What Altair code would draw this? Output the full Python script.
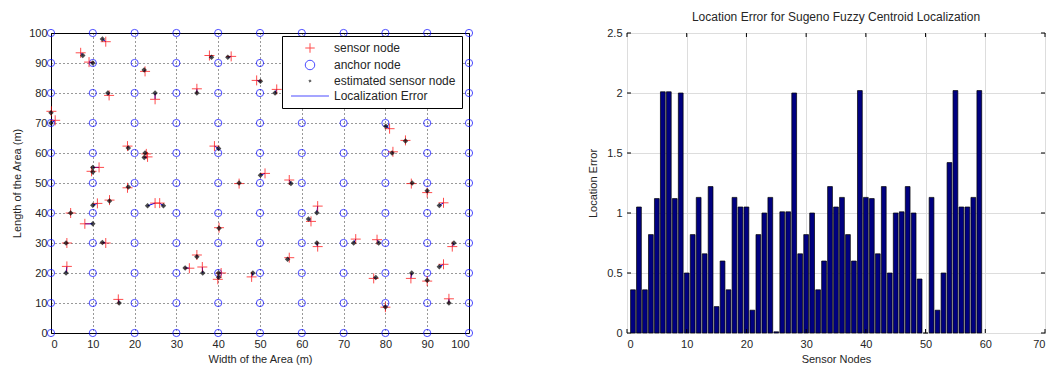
import altair as alt
import pandas as pd

# ---- data ----
sensor_x = [7.1, 13.1, 9.1, 22.5, 13.9, 24.9, 34.9, 37.9, 43.1, 49.2,
            54.0, 0.1, 1.0, 18.3, 23.1, 22.8, 39.1, 11.5, 9.7, 18.3,
            45.0, 51.2, 81.0, 84.8, 81.8, 57.0, 86.2, 90.0, 93.9, 63.8,
            62.2, 72.9, 78.0, 63.8, 96.0, 57.0, 93.9, 48.0, 77.2, 86.1,
            90.0, 80.0, 95.2, 11.1, 14.0, 4.7, 8.1, 3.8, 13.1, 3.8,
            24.9, 26.0, 40.2, 34.9, 33.1, 36.2, 40.7, 39.9, 16.1]
sensor_y = [93.4, 97.1, 90.3, 87.2, 79.2, 77.9, 81.4, 92.5, 92.2, 84.2,
            81.2, 73.9, 70.9, 62.3, 58.7, 59.7, 62.3, 55.2, 53.9, 48.4,
            49.8, 53.2, 68.1, 64.2, 60.4, 51.0, 49.8, 46.8, 43.4, 42.3,
            37.2, 31.3, 31.1, 28.8, 28.8, 25.1, 22.9, 18.7, 18.2, 18.2,
            17.3, 8.6, 11.4, 43.2, 44.3, 40.0, 36.4, 30.0, 30.0, 22.2,
            43.3, 43.3, 35.1, 26.0, 21.6, 22.0, 20.0, 17.9, 11.2]
est_x = [7.6, 12.3, 10.0, 22.3, 13.6, 24.9, 34.9, 38.4, 42.3, 50.1,
         53.6, 0.0, 0.0, 18.5, 22.3, 22.5, 40.1, 10.0, 10.0, 18.5,
         45.0, 50.1, 80.1, 84.8, 81.6, 57.4, 86.4, 90.0, 92.9, 63.6,
         61.6, 72.4, 78.4, 63.6, 96.4, 56.6, 92.9, 48.3, 77.7, 86.3,
         90.0, 80.0, 95.2, 10.0, 14.0, 4.7, 10.0, 3.6, 12.3, 3.6,
         23.1, 26.9, 40.2, 34.9, 32.1, 36.3, 40.1, 40.1, 16.3]
est_y = [92.5, 98.0, 90.0, 87.7, 80.0, 80.0, 80.0, 91.9, 91.9, 83.9,
         80.0, 73.4, 70.0, 61.7, 58.5, 60.0, 61.5, 55.2, 53.7, 48.7,
         50.0, 52.6, 68.9, 64.0, 60.0, 49.8, 50.0, 47.4, 42.5, 40.1,
         38.0, 30.0, 30.0, 30.0, 30.0, 24.6, 22.1, 20.0, 18.5, 20.0,
         17.6, 8.7, 10.0, 42.6, 44.0, 40.0, 36.4, 30.0, 30.2, 20.0,
         42.4, 42.4, 34.9, 25.4, 21.7, 20.0, 20.0, 18.6, 10.0]
anchor_grid = [0, 10, 20, 30, 40, 50, 60, 70, 80, 90, 100]

errors = [0.36, 1.05, 0.36, 0.82, 1.12, 2.01, 2.01, 1.12, 2.00, 0.50,
          0.82, 1.13, 0.66, 1.22, 0.22, 0.60, 0.36, 1.13, 1.05, 1.05,
          0.19, 0.82, 1.00, 1.13, 0.01, 1.01, 1.01, 2.00, 0.66, 0.82,
          1.00, 0.36, 0.60, 1.22, 1.05, 1.13, 0.82, 0.60, 2.02, 1.13,
          1.12, 0.66, 1.22, 0.50, 1.00, 1.01, 1.22, 1.00, 0.45, 0.00,
          1.13, 0.19, 0.50, 1.42, 2.02, 1.05, 1.05, 1.13, 2.02]
bar_x_ticks = [0, 10, 20, 30, 40, 50, 60, 70]
bar_y_ticks = [0, 0.5, 1, 1.5, 2, 2.5]

kinds = ["sensor node", "anchor node", "estimated sensor node", "Localization Error"]
kind_colors = ["#ff0000", "#0000ff", "#000000", "#0000ff"]
kind_shapes = ["M-1,0L1,0M0,-1L0,1", "circle", "M-0.25,0L0,-0.25L0.25,0L0,0.25Z", "M-4,0L4,0"]

FONT = "Liberation Sans"
TXT = "#262626"
W, H = 418, 300

# ---- left panel ----
sensors = pd.DataFrame({"x": sensor_x, "y": sensor_y, "kind": kinds[0]})
estimates = pd.DataFrame({"x": est_x, "y": est_y, "kind": kinds[2]})
anchors = pd.DataFrame([{"x": a, "y": b, "kind": kinds[1]} for a in anchor_grid for b in anchor_grid])
links = pd.DataFrame({"x": sensor_x, "y": sensor_y, "x2": est_x, "y2": est_y, "kind": kinds[3]})

leg = alt.Legend(title=None, orient="none", legendX=231, legendY=3,
                 fillColor="white", strokeColor="black", padding=6,
                 labelFont=FONT, labelFontSize=12, labelColor=TXT,
                 symbolSize=90, symbolStrokeWidth=1, symbolOffset=16,
                 labelOffset=18, rowPadding=3)
cscale = alt.Scale(domain=kinds, range=kind_colors)
sscale = alt.Scale(domain=kinds, range=kind_shapes)

xs = alt.X("x:Q", scale=alt.Scale(domain=[0, 100], nice=False),
           axis=alt.Axis(values=anchor_grid, title="Width of the Area (m)", grid=True,
                         gridDash=[1, 3], gridColor="#000000", gridOpacity=0.8,
                         labelPadding=5, titlePadding=4))
ys = alt.Y("y:Q", scale=alt.Scale(domain=[0, 100], nice=False),
           axis=alt.Axis(values=anchor_grid, title="Length of the Area (m)", grid=True,
                         gridDash=[1, 3], gridColor="#000000", gridOpacity=0.8,
                         labelPadding=4, titlePadding=6))


def pts(df, size, sw=1.0):
    return alt.Chart(df).mark_point(filled=False, size=size, strokeWidth=sw).encode(
        x=xs, y=ys,
        color=alt.Color("kind:N", scale=cscale, legend=leg),
        shape=alt.Shape("kind:N", scale=sscale, legend=leg),
    )


rules = alt.Chart(links).mark_rule(strokeWidth=1).encode(
    x=xs, y=ys, x2="x2:Q", y2="y2:Q",
    color=alt.Color("kind:N", scale=cscale, legend=leg),
)

left = alt.layer(pts(anchors, 52), rules, pts(sensors, 100), pts(estimates, 90, 2.2)).properties(
    width=W, height=H)

# ---- right panel ----
bars = pd.DataFrame({"n": list(range(1, len(errors) + 1)), "err": errors})
bx = alt.X("x0:Q", scale=alt.Scale(domain=[0, 70], nice=False),
           axis=alt.Axis(values=bar_x_ticks, title="Sensor Nodes", labelPadding=5, titlePadding=4))
by = alt.Y("err:Q", scale=alt.Scale(domain=[0, 2.5], nice=False),
           axis=alt.Axis(values=bar_y_ticks, format="~g", title="Location Error",
                         labelPadding=5, titlePadding=8))

bar_layer = alt.Chart(bars).transform_calculate(
    x0="datum.n - 0.4", x1="datum.n + 0.4"
).mark_bar(color="#000080", stroke="#000000", strokeWidth=0.7).encode(
    x=bx, x2="x1:Q", y=by, y2=alt.datum(0)
)

xt = pd.DataFrame({"t": bar_x_ticks})
yt = pd.DataFrame({"t": bar_y_ticks})
tx = alt.X("t:Q", scale=alt.Scale(domain=[0, 70], nice=False))
ty = alt.Y("t:Q", scale=alt.Scale(domain=[0, 2.5], nice=False))
tick_top = alt.Chart(xt).mark_rule(color="black").encode(x=tx, y=alt.value(0), y2=alt.value(4))
tick_bot = alt.Chart(xt).mark_rule(color="black").encode(x=tx, y=alt.value(H), y2=alt.value(H - 4))
tick_l = alt.Chart(yt).mark_rule(color="black").encode(y=ty, x=alt.value(0), x2=alt.value(4))
tick_r = alt.Chart(yt).mark_rule(color="black").encode(y=ty, x=alt.value(W), x2=alt.value(W - 4))

right = alt.layer(bar_layer, tick_top, tick_bot, tick_l, tick_r).properties(
    width=W, height=H,
    title=alt.TitleParams("Location Error for Sugeno Fuzzy Centroid Localization",
                          font=FONT, fontSize=12, fontWeight="normal", color=TXT, offset=3),
)

chart = alt.hconcat(left, right, spacing=158, bounds="flush").properties(
    padding={"left": 3, "top": 2, "right": 0, "bottom": 0}
).configure_view(
    stroke="#000000", strokeWidth=1
).configure_axis(
    labelFont=FONT, labelFontSize=11, labelColor=TXT,
    titleFont=FONT, titleFontSize=11, titleFontWeight="normal", titleColor=TXT,
    ticks=False, domain=False
)

chart.save("out.html", embed_options={"renderer": "svg", "actions": False})
